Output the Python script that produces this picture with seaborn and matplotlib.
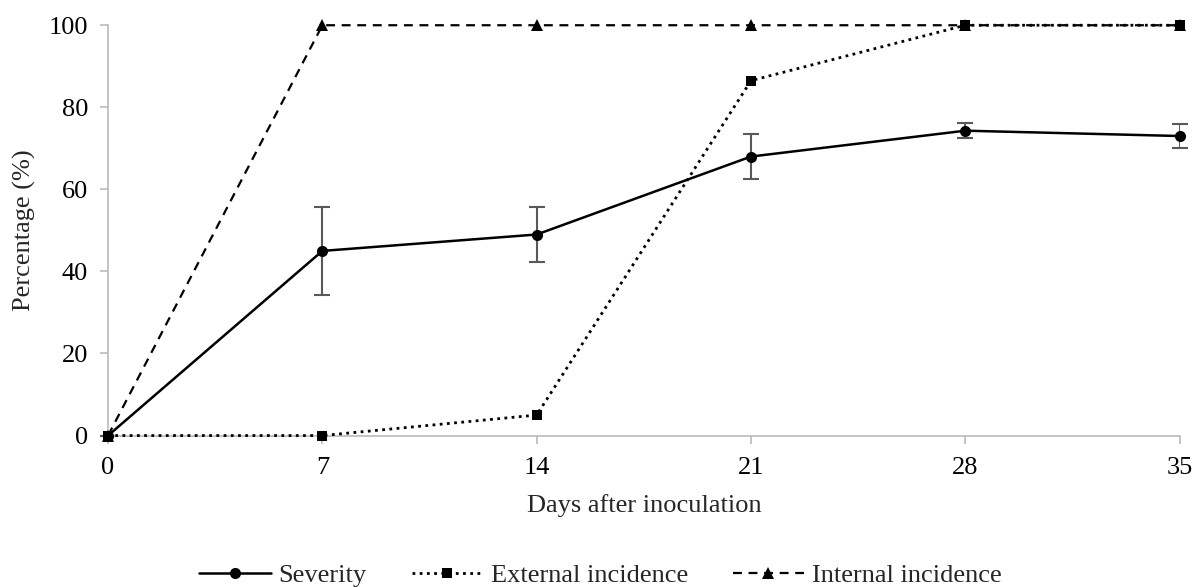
import matplotlib
matplotlib.use("Agg")
import matplotlib.pyplot as plt
import seaborn as sns
import pandas as pd
import numpy as np

days = [0, 7, 14, 21, 28, 35]
severity = [0, 45, 49, 68, 74.3, 73]
severity_err = [0, 10.7, 6.6, 5.5, 1.9, 3.0]
external = [0, 0, 5, 86.5, 100, 100]
internal = [0, 100, 100, 100, 100, 100]

sns.set_theme(style="white")
plt.rcParams['font.family'] = ['Liberation Serif', 'DejaVu Serif']

fig = plt.figure(figsize=(11.94, 5.87), dpi=100)
ax = fig.add_axes([0.0905, 0.258, 0.8975, 0.699])

df = pd.DataFrame({"day": days, "sev": severity, "ext": external, "int": internal})

ax.errorbar(days, severity, yerr=severity_err, fmt='none', ecolor='#595959',
            elinewidth=1.5, capsize=6, capthick=1.5, zorder=2)
sns.lineplot(data=df, x="day", y="sev", ax=ax, color='black', lw=1.8,
             marker='o', markersize=8, markeredgewidth=0, label='Severity', zorder=3)
sns.lineplot(data=df, x="day", y="ext", ax=ax, color='black', lw=2.0,
             linestyle=(0, (1, 1.6)), marker='s', markersize=7, markeredgewidth=0,
             label='External incidence', zorder=3)
sns.lineplot(data=df, x="day", y="int", ax=ax, color='black', lw=1.6,
             linestyle=(0, (4, 3)), marker='^', markersize=8, markeredgewidth=0,
             label='Internal incidence', zorder=3)

ax.set_xlim(0, 35)
ax.set_ylim(0, 100)
ax.set_xticks(days)
ax.set_yticks([0, 20, 40, 60, 80, 100])
ax.tick_params(axis='both', which='major', bottom=True, left=True, labelsize=19,
               colors='#BFBFBF', labelcolor='black', length=5.5, width=1.3,
               direction='out')
ax.tick_params(axis='x', pad=10)
ax.tick_params(axis='y', pad=9)
for s in ['top', 'right']:
    ax.spines[s].set_visible(False)
for s in ['left', 'bottom']:
    ax.spines[s].set_color('#BFBFBF')
    ax.spines[s].set_linewidth(1.3)
for line in ax.get_lines():
    line.set_clip_on(False)

ax.set_xlabel("Days after inoculation", fontsize=19, labelpad=11)
ax.set_ylabel("Percentage (%)", fontsize=19)
ax.yaxis.set_label_coords(-0.067, 0.5)

handles, labels = ax.get_legend_handles_labels()
ax.get_legend().remove()
fig.legend(handles, labels, loc='center', bbox_to_anchor=(0.503, 1 - 575 / 587), ncol=3,
           frameon=False, fontsize=19, handlelength=2.7, columnspacing=1.7,
           handletextpad=0.3, borderaxespad=0)

fig.savefig("out.png", dpi=100)
